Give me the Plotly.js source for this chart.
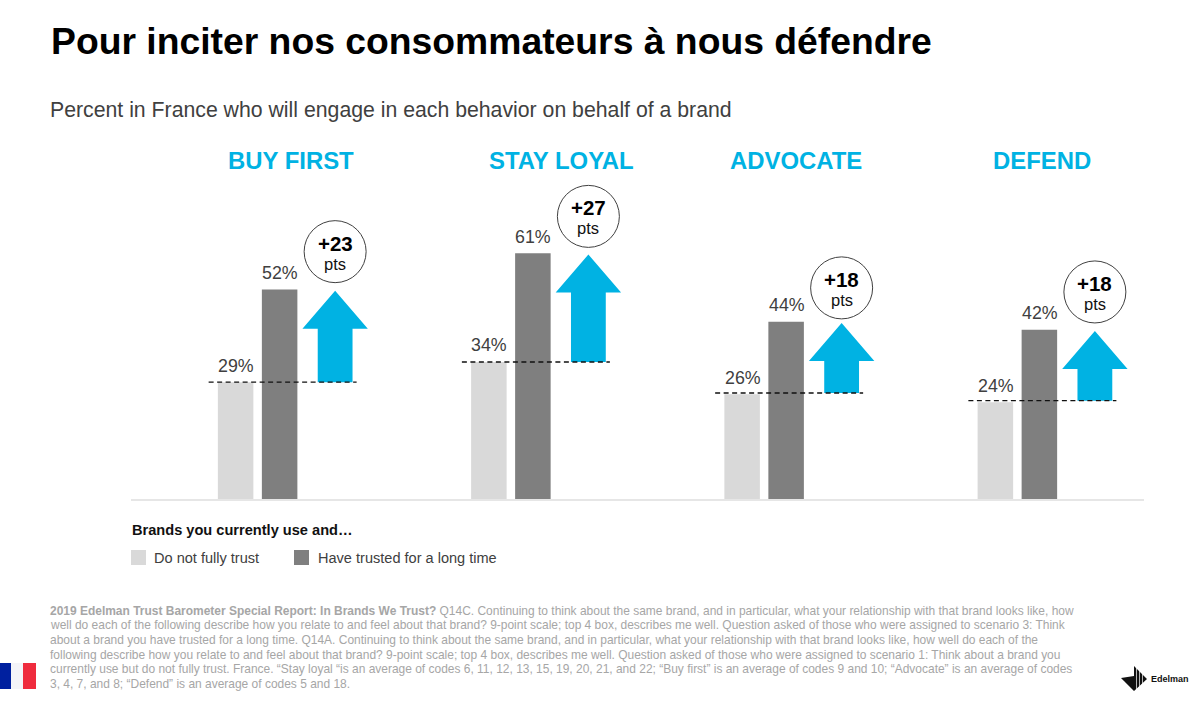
<!DOCTYPE html>
<html><head><meta charset="utf-8">
<script src="https://cdn.plot.ly/plotly-3.0.1.min.js"></script>
<style>html,body{margin:0;padding:0;background:#fff}#chart{width:1200px;height:707px}</style>
</head><body><div id="chart"></div>
<script>
const categories = ["BUY FIRST","STAY LOYAL","ADVOCATE","DEFEND"];
const doNotFullyTrust = [29,34,26,24];
const trustedLongTime = [52,61,44,42];
const gainLabels = ["+23","+27","+18","+18"];
const seriesNames = ["Do not fully trust","Have trusted for a long time"];
const legendTitle = "Brands you currently use and…";
const titleText = "Pour inciter nos consommateurs à nous défendre";
const subtitleText = "Percent in France who will engage in each behavior on behalf of a brand";
const footnoteBold = "2019 Edelman Trust Barometer Special Report: In Brands We Trust?";
const footnoteLines = [
 " Q14C. Continuing to think about the same brand, and in particular, what your relationship with that brand looks like, how",
 "well do each of the following describe how you relate to and feel about that brand? 9-point scale; top 4 box, describes me well. Question asked of those who were assigned to scenario 3: Think",
 "about a brand you have trusted for a long time. Q14A. Continuing to think about the same brand, and in particular, what your relationship with that brand looks like, how well do each of the",
 "following describe how you relate to and feel about that brand? 9-point scale; top 4 box, describes me well. Question asked of those who were assigned to scenario 1: Think about a brand you",
 "currently use but do not fully trust. France. “Stay loyal “is an average of codes 6, 11, 12, 13, 15, 19, 20, 21, and 22; “Buy first” is an average of codes 9 and 10; “Advocate” is an average of codes",
 "3, 4, 7, and 8; “Defend” is an average of codes 5 and 18."
];

// layout constants (pixels on the 1200x707 page)
const W=1200,H=707, L=131,R=1144, BASE=499, TOP=175, PX_PER_PCT=4.03;
const LIGHT="#d9d9d9", DARK="#7f7f7f", BLUE="#00b2e3", INK="#404040";
const FONT="Liberation Sans, Arial, sans-serif";
const px=x=>x/W, py=y=>1-y/H;
const slot=(R-L)/categories.length;
const dx=p=>p/slot;                 // pixels -> category units
const dy=p=>p/PX_PER_PCT;           // pixels -> percentage points
const titleCentres=[291,561,796,1042];
const dashNudge=[0,0,0.3,0.4];
const circleLift=[39,38,35,39];

const shapes=[], annotations=[];
const paperText=(x,y,text,size,color,anchor,bold)=>annotations.push({
  xref:"paper",yref:"paper",x:px(x),y:py(y),text:bold?`<b>${text}</b>`:text,showarrow:false,
  xanchor:anchor||"left",yanchor:"middle",borderpad:0,
  font:{family:FONT,size,color}});

categories.forEach((c,i)=>{
  const base=doNotFullyTrust[i]+dashNudge[i], tip=trustedLongTime[i]-0.3, cx=i+dx(77.5);
  const shoulder=tip-dy(38);
  const pts=[[cx,tip],[cx+dx(32.7),shoulder],[cx+dx(17.4),shoulder],[cx+dx(17.4),base],
             [cx-dx(17.4),base],[cx-dx(17.4),shoulder],[cx-dx(32.7),shoulder]];
  shapes.push({type:"path",xref:"x",yref:"y",path:"M"+pts.map(p=>p.join(",")).join("L")+"Z",
    fillcolor:BLUE,line:{width:0}});
  shapes.push({type:"line",xref:"x",yref:"y",x0:i-dx(49),x1:i+dx(99),y0:base,y1:base,
    line:{color:"#111",width:1.3,dash:"5px,3.5px"}});
  const cy=tip+dy(circleLift[i]);
  shapes.push({type:"circle",xref:"x",yref:"y",x0:cx-dx(31),x1:cx+dx(31),y0:cy-dy(31),y1:cy+dy(31),
    fillcolor:"#fff",line:{color:INK,width:1}});
  annotations.push({xref:"x",yref:"y",x:cx,y:cy+dy(8.5),text:`<b>${gainLabels[i]}</b>`,showarrow:false,
    yanchor:"middle",font:{family:FONT,size:20.5,color:"#000"}});
  annotations.push({xref:"x",yref:"y",x:cx,y:cy-dy(12),text:"pts",showarrow:false,
    yanchor:"middle",font:{family:FONT,size:16.5,color:"#111"}});
  paperText(titleCentres[i],160,c,23.9,BLUE,"center",true);
  // value labels sit above each bar
  [[doNotFullyTrust[i],-22],[trustedLongTime[i],22]].forEach(([v,off])=>{
    annotations.push({xref:"x",yref:"y",x:i+dx(off+0.5),y:v,yshift:16.5,text:v+"%",showarrow:false,
      yanchor:"middle",font:{family:FONT,size:17.8,color:INK}});
  });
});

paperText(50,41,titleText,37.3,"#000","left",true);
paperText(48.7,110,subtitleText,21.25,INK,"left",false);
paperText(130.5,530,legendTitle,14.6,"#111","left",true);
paperText(152.5,558,seriesNames[0],14.55,INK);
paperText(316.5,558,seriesNames[1],14.55,INK);
const rect=(x0,x1,y0,y1,fill)=>shapes.push({type:"rect",xref:"paper",yref:"paper",
  x0:px(x0),x1:px(x1),y0:py(y0),y1:py(y1),fillcolor:fill,line:{width:0}});
rect(131,146,550,565,LIGHT);
rect(294,309,550,565,DARK);

footnoteLines.forEach((t,i)=>{
  paperText(48.7,610.8+i*14.65,(i===0?`<b>${footnoteBold}</b>`:"")+t,11.97,"#a6a6a6");
});

// French flag
rect(0,11,663,689,"#00209f"); rect(11,23,663,689,"#f4f4f8"); rect(23,36,663,689,"#ef2b3d");
// Edelman mark
const poly=(p,fill)=>shapes.push({type:"path",xref:"paper",yref:"paper",
  path:"M"+p.map(q=>px(q[0])+","+py(q[1])).join("L")+"Z",fillcolor:fill,line:{width:0}});
poly([[1134,666],[1147,679],[1134,691],[1124,681],[1121,678],[1134,676]],"#111");
[1136,1139,1142].forEach(x=>rect(x,x+0.7,668,690,"#fff"));
paperText(1150,679,"Edelman",9,"#111","left",true);

const traces=[
 {type:"bar",name:seriesNames[0],x:categories,y:doNotFullyTrust,marker:{color:LIGHT}},
 {type:"bar",name:seriesNames[1],x:categories,y:trustedLongTime,marker:{color:DARK}}
];
const layout={
 width:W,height:H,margin:{l:0,r:0,t:0,b:0},paper_bgcolor:"#fff",plot_bgcolor:"#fff",
 showlegend:false,barmode:"group",bargap:0.6525,bargroupgap:0.193,
 xaxis:{domain:[px(L),px(R)],type:"category",categoryorder:"array",categoryarray:categories,
   showticklabels:false,ticks:"",showgrid:false,zeroline:false,showline:true,linecolor:"#e6e6e6",linewidth:2},
 yaxis:{domain:[py(BASE),py(TOP)],range:[0,(BASE-TOP)/PX_PER_PCT],showticklabels:false,ticks:"",
   showgrid:false,zeroline:false,showline:false},
 shapes,annotations
};
Plotly.newPlot("chart",traces,layout,{displayModeBar:false,staticPlot:true});
</script></body></html>
